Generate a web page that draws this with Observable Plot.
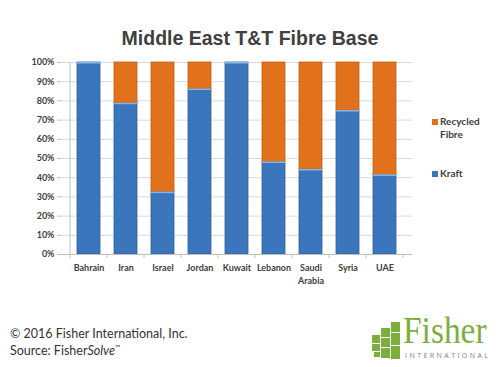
<!DOCTYPE html>
<html>
<head>
<meta charset="utf-8">
<script src="https://cdn.jsdelivr.net/npm/d3@7"></script>
<script src="https://cdn.jsdelivr.net/npm/@observablehq/plot@0.6"></script>
<style>
  html, body { margin: 0; padding: 0; background: #fff; }
  #fig { position: relative; width: 500px; height: 367px; overflow: hidden; font-family: Lato, "Open Sans", sans-serif; }
  #title { position: absolute; left: 0; top: 27px; width: 500px; text-align: center; font: bold 19.5px "Liberation Sans", Arial, sans-serif; color: #404040; }
  #chart { position: absolute; left: 0; top: 0; }
  .leg { position: absolute; font: bold 10px Lato, sans-serif; color: #404040; line-height: 13px; }
  .sw { display: inline-block; width: 6px; height: 6px; margin-right: 2px; vertical-align: 0px; }
  .foot { position: absolute; left: 10px; font: 12.5px Lato, sans-serif; color: #333; }
  #logotext { position: absolute; left: 403px; top: 312px; font: 38px "Liberation Serif", "DejaVu Serif", serif; color: #7cae3f; transform: scaleX(0.88); transform-origin: left top; line-height: 36px; height: 36px; }
  #logosub { position: absolute; left: 405px; top: 352px; font: 7px "Open Sans", sans-serif; color: #808080; letter-spacing: 2.45px; line-height: 7px; }
  .sq { position: absolute; background: #7cae3f; }
</style>
</head>
<body>
<div id="fig">
  <div id="title">Middle East T&amp;T Fibre Base</div>
  <div id="chart"></div>
  <div class="leg" style="left:432px; top:115px;"><span class="sw" style="background:#e2711b"></span>Recycled<br><span style="margin-left:8px">Fibre</span></div>
  <div class="leg" style="left:432px; top:167px;"><span class="sw" style="background:#3b76bd"></span>Kraft</div>
  <div class="foot" style="top:326px;">© 2016 Fisher International, Inc.</div>
  <div class="foot" style="top:343px;">Source: Fisher<i>Solve</i><sup style="font-size:7px">™</sup></div>
  <div id="logotext">Fisher</div>
  <div id="logosub">INTERNATIONAL</div>
  <div id="icon"></div>
</div>
<script>
const countries = ["Bahrain", "Iran", "Israel", "Jordan", "Kuwait", "Lebanon", "Saudi Arabia", "Syria", "UAE"];
const kraft = [1.00, 0.788, 0.325, 0.862, 1.00, 0.482, 0.443, 0.75, 0.415];
const recycled = [0.00, 0.212, 0.675, 0.138, 0.00, 0.518, 0.557, 0.25, 0.585];
const yTicks = [0, 0.1, 0.2, 0.3, 0.4, 0.5, 0.6, 0.7, 0.8, 0.9, 1.0];

const rows = [];
countries.forEach((c, i) => {
  rows.push({country: c, series: "Kraft", y1: 0, y2: kraft[i]});
  rows.push({country: c, series: "Recycled Fibre", y1: kraft[i], y2: kraft[i] + recycled[i]});
});
const highlight = countries.map((c, i) => ({country: c, y1: Math.max(0, kraft[i] - 0.008), y2: kraft[i]}));

const chart = Plot.plot({
  width: 500,
  height: 290,
  marginLeft: 61,
  marginRight: 88,
  marginTop: 62,
  marginBottom: 36,
  style: {fontFamily: "Lato, 'Open Sans', sans-serif", fontSize: "9px", fontWeight: "bold", color: "#404040", background: "transparent"},
  x: {domain: countries, padding: 0.385, label: null, axis: null},
  y: {domain: [0, 1], label: null, axis: null},
  color: {domain: ["Kraft", "Recycled Fibre"], range: ["#3b76bd", "#e2711b"]},
  marks: [
    Plot.ruleY(yTicks.slice(1), {stroke: "#d9d9d9", strokeWidth: 1}),
    Plot.rectY(rows, {x: "country", y1: "y1", y2: "y2", fill: "series", stroke: d => d.series === "Kraft" ? "#2f5f97" : "#c0601a", strokeWidth: 0.8}),
    Plot.rectY(highlight, {x: "country", y1: "y1", y2: "y2", fill: "#86b6e6"}),
    Plot.ruleY([0], {stroke: "#bfbfbf"}),
    Plot.axisY({ticks: yTicks, tickFormat: d => Math.round(d * 100) + "%", tickSize: 4, tickPadding: 3, stroke: "#bfbfbf", label: null, fontWeight: "bold"}),
    Plot.axisX({tickSize: 0, tickPadding: 8, label: null, fontWeight: "bold", lineWidth: 6, lineHeight: 1.4})
  ]
});
document.getElementById("chart").appendChild(chart);

// y-axis vertical line and x-axis boundary ticks, positioned through the scales
const xs = chart.scale("x"), ys = chart.scale("y");
const svg = d3.select(chart);
const step = xs.step;
const bounds = countries.map(c => xs.apply(c) - (step - xs.bandwidth) / 2);
bounds.push(bounds[bounds.length - 1] + step);
svg.append("line").attr("x1", bounds[0]).attr("x2", bounds[0]).attr("y1", ys.apply(0)).attr("y2", ys.apply(1)).attr("stroke", "#bfbfbf");
svg.selectAll(".bt").data(bounds).join("line").attr("x1", d => d).attr("x2", d => d).attr("y1", ys.apply(0)).attr("y2", ys.apply(0) + 4).attr("stroke", "#bfbfbf");

// logo squares (decoration)
const icon = document.getElementById("icon");
const cells = [
  [391,322,9,10],[391,333,9,12],[391,346,9,13],
  [381,328,9,9],[381,338,9,9],[381,348,9,10],
  [372,335,8,8],[372,344,8,7],[374,352,6,5]
];
cells.forEach(([x, y, w, h]) => {
  const d = document.createElement("div");
  d.className = "sq";
  d.style.left = x + "px"; d.style.top = y + "px";
  d.style.width = w + "px"; d.style.height = h + "px";
  icon.appendChild(d);
});
</script>
</body>
</html>
